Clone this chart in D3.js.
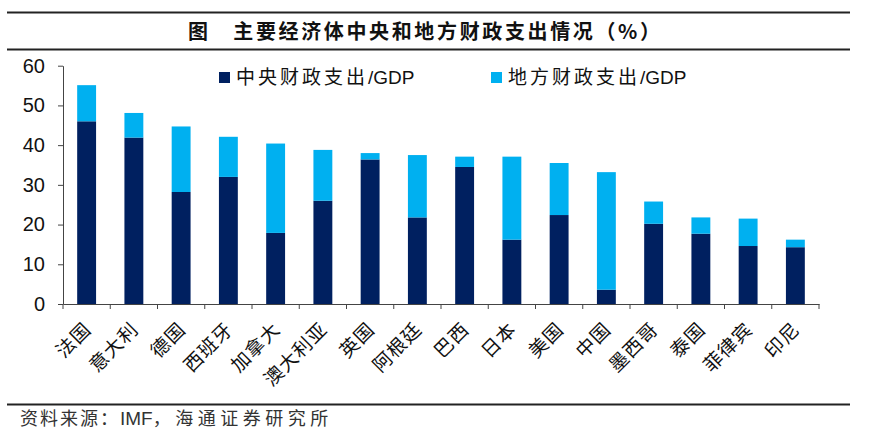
<!DOCTYPE html>
<html><head><meta charset="utf-8">
<script src="https://cdn.jsdelivr.net/npm/d3@7"></script>
<style>
body{margin:0;background:#fff;}
svg{display:block;}
</style></head>
<body>
<script>
const categories = ["法国","意大利","德国","西班牙","加拿大","澳大利亚","英国","阿根廷","巴西","日本","美国","中国","墨西哥","泰国","菲律宾","印尼"];
const centralSpending = [46.0,41.9,28.2,32.0,17.9,26.0,36.4,21.8,34.5,16.2,22.4,3.6,20.2,17.7,14.6,14.3];
const totalSpending = [55.1,48.1,44.7,42.1,40.4,38.8,38.0,37.5,37.1,37.1,35.5,33.2,25.8,21.8,21.5,16.2];
const localSpending = totalSpending.map((t,i)=>+(t-centralSpending[i]).toFixed(1));
const seriesNames = ["中央财政支出/GDP","地方财政支出/GDP"];
const yTicks = [0,10,20,30,40,50,60];
const colors = ["#002060","#00b0f0"];
const titleText = "图　主要经济体中央和地方财政支出情况（%）";
const sourceParts = ["资料来源：","IMF","，海通证券研究所"];

const W=870,H=438;
const svg=d3.select("body").append("svg").attr("width",W).attr("height",H);
const cjk="'Noto Sans CJK SC','Noto Sans',sans-serif";
const latin="'Liberation Sans',Arial,sans-serif";

// frame lines
[12.5,49.5,404.5].forEach(yy=>{
  svg.append("line").attr("x1",7).attr("x2",850).attr("y1",yy).attr("y2",yy)
    .attr("stroke","#222").attr("stroke-width",2);
});
svg.append("text").attr("x",188).attr("y",39).attr("font-family",cjk)
  .attr("font-weight","bold").attr("font-size",20).attr("fill","#111")
  .attr("textLength",472).attr("lengthAdjust","spacing").text(titleText);
const src=svg.append("text").attr("x",20).attr("y",425).attr("font-size",18).attr("fill","#333");
src.append("tspan").attr("font-family",cjk).attr("letter-spacing",2).text(sourceParts[0]);
src.append("tspan").attr("font-family",latin).attr("font-size",19).text(sourceParts[1]);
src.append("tspan").attr("font-family",cjk).attr("letter-spacing",4.5).text(sourceParts[2]);

const x=d3.scaleBand().domain(categories).range([63,819]).paddingInner(0.6).paddingOuter(0.3);
const y=d3.scaleLinear().domain([0,60]).range([304,65.7]);

const stackData=categories.map((c,i)=>({cat:c,central:centralSpending[i],local:localSpending[i]}));
const stack=d3.stack().keys(["central","local"])(stackData);

svg.append("g").selectAll("g").data(stack).join("g").attr("fill",(d,i)=>colors[i])
  .selectAll("rect").data(d=>d).join("rect")
  .attr("x",d=>x(d.data.cat)).attr("width",x.bandwidth())
  .attr("y",d=>y(d[1])).attr("height",d=>y(d[0])-y(d[1]));

// y axis
const ya=svg.append("g").attr("transform","translate(63,0)")
  .call(d3.axisLeft(y).tickValues(yTicks).tickSize(5).tickSizeOuter(0).tickPadding(13));
ya.selectAll("text").attr("font-family",latin).attr("font-size",20).attr("fill","#111");
ya.selectAll("line,path").attr("stroke","#444");

// x axis
const xa=svg.append("g").attr("transform","translate(0,304)")
  .call(d3.axisBottom(x).tickSize(0).tickSizeOuter(0).tickFormat(""));
xa.select("path").attr("stroke","#444");
const bounds=d3.range(categories.length+1).map(i=>x.range()[0]+i*x.step());
xa.selectAll("line.b").data(bounds).join("line").attr("class","b")
  .attr("x1",d=>d).attr("x2",d=>d).attr("y1",0).attr("y2",5).attr("stroke","#444");

svg.append("g").selectAll("text").data(categories).join("text")
  .attr("transform",d=>`translate(${x(d)+x.bandwidth()/2+1},${326}) rotate(-45)`)
  .attr("text-anchor","end").attr("dy","0.35em")
  .attr("font-family",cjk).attr("font-size",19).attr("letter-spacing",1).attr("fill","#111")
  .text(d=>d);

// legend
const legX=[219,491];
seriesNames.forEach((n,i)=>{
  svg.append("rect").attr("x",legX[i]).attr("y",72).attr("width",11).attr("height",11).attr("fill",colors[i]);
  const t=svg.append("text").attr("x",legX[i]+17).attr("y",84).attr("font-size",19).attr("fill","#111");
  const parts=n.split("/");
  t.append("tspan").attr("font-family",cjk).attr("letter-spacing",3).text(parts[0]);
  t.append("tspan").attr("font-family",latin).text("/"+parts[1]);
});
</script>
</body></html>
